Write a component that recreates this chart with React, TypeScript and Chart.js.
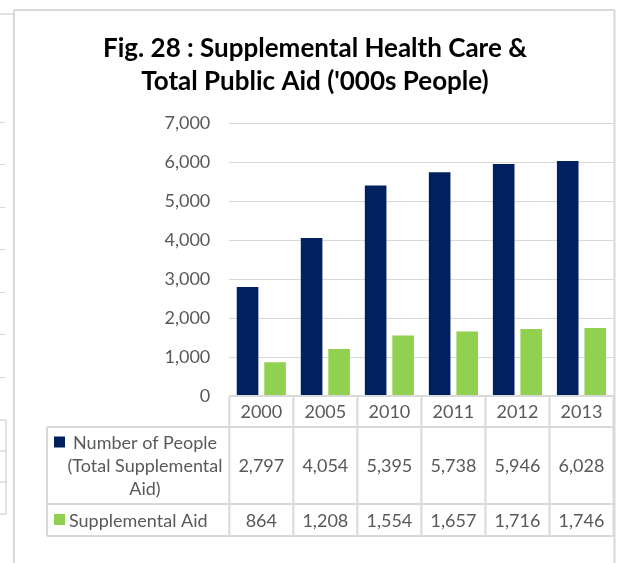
import React, { useEffect, useRef } from "react";
import { Chart, registerables } from "chart.js";

Chart.register(...registerables);

const TITLE_LINES = ["Fig. 28 : Supplemental Health Care &", "Total Public Aid ('000s People)"];
const YEARS = ["2000", "2005", "2010", "2011", "2012", "2013"];
const TOTAL_PEOPLE = [2797, 4054, 5395, 5738, 5946, 6028];
const SUPPLEMENTAL_AID = [864, 1208, 1554, 1657, 1716, 1746];
const SERIES_NAMES = ["Number of People (Total Supplemental Aid)", "Supplemental Aid"];
const SERIES_COLORS = ["#002060", "#92D050"];
const Y_MIN = 0;
const Y_MAX = 7000;
const Y_STEP = 1000;

const GRID = "#D9D9D9";
const TEXT = "#595959";
const FONT = "Lato";

const fmt = (v: number) => Number(v).toLocaleString("en-US");

function line(ctx: CanvasRenderingContext2D, x1: number, y1: number, x2: number, y2: number) {
  ctx.beginPath();
  ctx.moveTo(x1, y1);
  ctx.lineTo(x2, y2);
  ctx.stroke();
}

function wrap(ctx: CanvasRenderingContext2D, text: string, maxW: number): string[] {
  const words = text.split(" ");
  const out: string[] = [];
  let cur = "";
  for (const w of words) {
    const t = cur ? cur + " " + w : w;
    if (ctx.measureText(t).width > maxW && cur) {
      out.push(cur);
      cur = w;
    } else cur = t;
  }
  if (cur) out.push(cur);
  return out;
}

const framePlugin = {
  id: "frame",
  beforeDraw(chart: any) {
    const ctx: CanvasRenderingContext2D = chart.ctx;
    const W = chart.width;
    const H = chart.height;
    ctx.save();
    ctx.strokeStyle = GRID;
    // neighbouring chart fragment on the left
    ctx.lineWidth = 1.5;
    line(ctx, 0, 14, 14, 14);
    ctx.lineWidth = 1;
    for (let k = 0; k < 7; k++) {
      const y = Math.round(121.7 + k * 42.5) + 0.5;
      line(ctx, 0, y, 5, y);
    }
    ctx.lineWidth = 1.5;
    [420, 451, 482, 514].forEach((y) => line(ctx, 0, y, 6, y));
    line(ctx, 6, 420, 6, 514);
    // main frame
    ctx.lineWidth = 2;
    line(ctx, 14, 10, W - 4.5, 10);
    line(ctx, 14, 10, 14, H);
    line(ctx, W - 4.5, 10, W - 4.5, H);
    ctx.restore();
  },
};

const tablePlugin = {
  id: "dataTable",
  afterDraw(chart: any) {
    const ctx: CanvasRenderingContext2D = chart.ctx;
    const { left, right, bottom } = chart.chartArea;
    const xs = chart.scales.x;
    const labels: string[] = chart.data.labels;
    const n = labels.length;
    const cw = (right - left) / n;
    const headerBottom = bottom + 31;
    const row1Bottom = headerBottom + 77;
    const row2Bottom = row1Bottom + 32;
    const tableLeft = 47;

    ctx.save();
    // title
    ctx.fillStyle = "#000000";
    ctx.font = `bold 26px ${FONT}`;
    ctx.textAlign = "center";
    ctx.textBaseline = "alphabetic";
    ctx.fillText(TITLE_LINES[0], 315, 56.7);
    ctx.fillText(TITLE_LINES[1], 315, 90);

    // table grid
    ctx.strokeStyle = GRID;
    ctx.lineWidth = 2;
    line(ctx, left, bottom, right, bottom);
    [headerBottom, row1Bottom, row2Bottom].forEach((y) => line(ctx, tableLeft, y, right, y));
    for (let k = 0; k <= n; k++) {
      const x = left + k * cw;
      line(ctx, x, bottom, x, row2Bottom);
    }
    line(ctx, tableLeft, headerBottom, tableLeft, row2Bottom);

    // header & values
    ctx.font = `18px ${FONT}`;
    ctx.fillStyle = TEXT;
    ctx.textAlign = "center";
    ctx.textBaseline = "middle";
    const rowCenters = [(headerBottom + row1Bottom) / 2, (row1Bottom + row2Bottom) / 2];
    labels.forEach((lab, i) => {
      const cx = xs.getPixelForValue(i);
      ctx.fillText(lab, cx, (bottom + headerBottom) / 2 + 1);
      chart.data.datasets.forEach((ds: any, d: number) => {
        ctx.fillText(fmt(ds.data[i]), cx, rowCenters[d] + 1);
      });
    });

    // legend cells
    chart.data.datasets.forEach((ds: any, d: number) => {
      const lines = wrap(ctx, ds.label, 160);
      const lh = 23;
      const cy = rowCenters[d];
      const firstY = cy - ((lines.length - 1) * lh) / 2;
      ctx.fillStyle = ds.backgroundColor;
      ctx.fillRect(54, firstY - 6, 11, 11);
      ctx.fillStyle = TEXT;
      if (lines.length > 1) {
        ctx.textAlign = "center";
        lines.forEach((t, j) => ctx.fillText(t, 145, firstY + j * lh + 1));
      } else {
        ctx.textAlign = "left";
        ctx.fillText(lines[0], 69, firstY + 1);
      }
    });
    ctx.restore();
  },
};

export default function App() {
  const ref = useRef<HTMLCanvasElement | null>(null);
  useEffect(() => {
    document.body.style.margin = "0";
    if (!ref.current) return;
    const chart = new Chart(ref.current, {
      type: "bar",
      data: {
        labels: YEARS,
        datasets: [
          { label: SERIES_NAMES[0], data: TOTAL_PEOPLE, backgroundColor: SERIES_COLORS[0] },
          { label: SERIES_NAMES[1], data: SUPPLEMENTAL_AID, backgroundColor: SERIES_COLORS[1] },
        ],
      },
      options: {
        responsive: false,
        animation: false,
        layout: { padding: { left: 0, right: 5.5, top: 123, bottom: 167 } },
        datasets: { bar: { categoryPercentage: 0.86, barPercentage: 0.785 } },
        plugins: {
          legend: { display: false },
          title: { display: false },
          tooltip: { enabled: false },
        },
        scales: {
          x: { display: false },
          y: {
            min: Y_MIN,
            max: Y_MAX,
            ticks: {
              stepSize: Y_STEP,
              color: TEXT,
              font: { family: FONT, size: 18 },
              padding: 19,
              callback: (v: any) => fmt(v),
            },
            grid: { color: GRID, lineWidth: 1, drawTicks: false },
            border: { display: false },
            afterFit: (s: any) => {
              s.width = 229.3;
            },
          },
        },
      },
      plugins: [framePlugin, tablePlugin],
    } as any);
    return () => chart.destroy();
  }, []);
  return <canvas ref={ref} width={619} height={563} style={{ display: "block" }} />;
}
